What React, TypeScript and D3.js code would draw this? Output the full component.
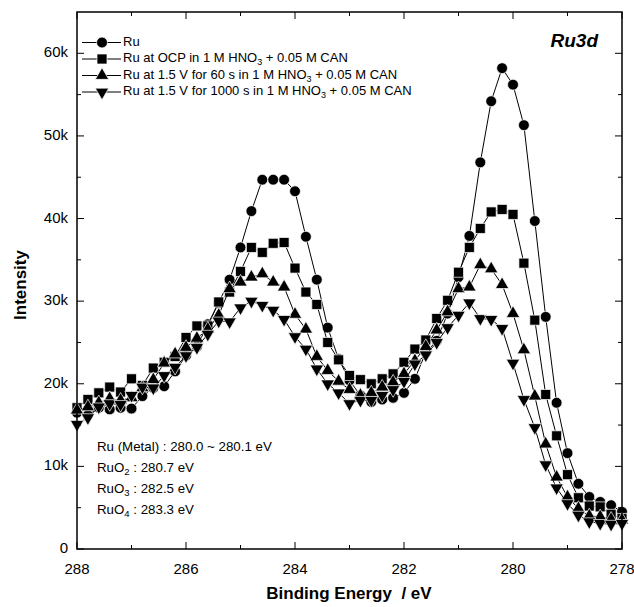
import React from "react";
import * as d3 from "d3";

// binding energy grid, 288 -> 278 eV in 0.2 eV steps
const energies = d3.range(0, 51).map((i) => +(288 - i * 0.2).toFixed(1));

// intensities in k counts
const ruMetal = [
  16.5, 16.2, 17.1, 16.9, 17.1, 17.0, 18.5, 19.5, 19.7, 21.5, 23.4, 24.5, 27.2, 29.8, 32.6, 36.5, 40.9,
  44.7, 44.7, 44.7, 43.3, 37.8, 32.6, 26.8, 23.0, 20.4, 18.6, 17.8, 18.1, 18.3, 18.9, 20.6, 23.8, 25.2,
  28.5, 32.9, 37.9, 46.8, 54.2, 58.2, 56.2, 51.3, 39.7, 28.1, 17.7, 11.6, 7.9, 6.3, 5.7, 5.3, 4.5,
];
const ruOcp = [
  17.1, 18.1, 18.9, 19.6, 19.0, 20.6, 19.8, 21.9, 22.6, 23.3, 25.6, 27.0, 27.0, 29.9, 31.1, 33.6, 36.5,
  35.9, 37.0, 37.1, 34.0, 31.1, 29.6, 25.0, 22.9, 21.0, 20.5, 20.0, 20.6, 21.2, 22.6, 24.2, 25.3, 27.9,
  30.1, 33.5, 36.5, 38.8, 40.8, 41.1, 40.5, 34.6, 27.7, 18.7, 13.7, 9.0, 6.2, 5.2, 5.1, 4.2, 3.7,
];
const ru60s = [
  16.8, 17.2, 17.7, 18.2, 18.0, 18.3, 19.5, 20.5, 22.5, 23.6, 24.4, 25.5, 26.6, 28.3, 31.5, 32.3, 32.9,
  33.3, 32.3, 31.7, 28.4, 26.6, 23.3, 21.6, 20.3, 19.3, 18.6, 18.9, 19.6, 20.2, 21.2, 22.8, 24.5, 26.5,
  28.7, 31.5, 31.7, 34.4, 33.9, 32.0, 28.5, 24.1, 18.5, 12.7, 8.7, 6.3, 4.9, 4.0, 3.9, 3.6, 3.5,
];
const ru1000s = [
  15.1, 15.9, 17.2, 17.6, 17.5, 18.6, 19.6, 19.5, 21.0, 22.0, 23.4, 24.4, 26.0, 27.6, 27.5, 29.2, 30.0,
  29.5, 28.9, 27.8, 25.7, 24.2, 21.8, 20.0, 18.9, 17.6, 18.0, 18.0, 18.6, 19.3, 20.3, 22.4, 23.5, 25.0,
  26.8, 28.3, 29.8, 27.9, 27.8, 26.7, 22.5, 18.1, 14.7, 10.2, 7.4, 5.5, 4.1, 3.3, 3.1, 3.0, 3.1,
];

const seriesNames = [
  "Ru",
  "Ru at OCP in 1 M HNO|3| + 0.05 M CAN",
  "Ru at 1.5 V for 60 s in 1 M HNO|3| + 0.05 M CAN",
  "Ru at 1.5 V for 1000 s in 1 M HNO|3| + 0.05 M CAN",
];
const seriesValues = [ruMetal, ruOcp, ru60s, ru1000s];
const seriesMarks = ["circle", "square", "up", "down"];

const notes = [
  ["Ru (Metal) : 280.0 ~ 280.1 eV", ""],
  ["RuO", "2", " : 280.7 eV"],
  ["RuO", "3", " : 282.5 eV"],
  ["RuO", "4", " : 283.3 eV"],
];

const xTicks = [288, 286, 284, 282, 280, 278];
const xMinor = [287, 285, 283, 281, 279];
const yTicks = [0, 10, 20, 30, 40, 50, 60];
const yMinor = [5, 15, 25, 35, 45, 55];

const W = 634;
const H = 607;
const left = 77;
const right = 622;
const top = 12;
const bottom = 549;
const font = "'Liberation Sans', Arial, sans-serif";

const x = d3.scaleLinear().domain([288, 278]).range([left, right]);
const y = d3.scaleLinear().domain([0, 65]).range([bottom, top]);

const symbolPath = (kind: string) => {
  if (kind === "circle") return d3.symbol(d3.symbolCircle, 92)()!;
  if (kind === "square") return d3.symbol(d3.symbolSquare, 100)()!;
  return d3.symbol(d3.symbolTriangle, 78)()!;
};

const Marker = ({ kind, cx, cy }: { kind: string; cx: number; cy: number }) => (
  <path
    d={symbolPath(kind)}
    transform={`translate(${cx},${cy})${kind === "down" ? " rotate(180)" : ""}`}
    fill="#000"
    stroke="#fff"
    strokeWidth={0.7}
  />
);

const LegendLabel = ({ text, tx, ty }: { text: string; tx: number; ty: number }) => {
  const parts = text.split("|");
  return (
    <text x={tx} y={ty} fontSize={13} fontFamily={font} dominantBaseline="middle" style={{ whiteSpace: "pre" }}>
      {parts[0]}
      {parts.length > 1 && (
        <>
          <tspan fontSize={9} dy={4}>
            {parts[1]}
          </tspan>
          <tspan dy={-4}>{parts[2]}</tspan>
        </>
      )}
    </text>
  );
};

export default function App() {
  const line = d3
    .line<number>()
    .x((_, i) => x(energies[i]))
    .y((d) => y(d));

  return (
    <svg width={W} height={H} style={{ position: "absolute", left: 0, top: 0 }}>
      <rect width={W} height={H} fill="#fff" />

      {/* data */}
      {seriesValues.map((vals, s) => (
        <g key={s}>
          <path d={line(vals)!} fill="none" stroke="#000" strokeWidth={1} />
          {vals.map((v, i) => (
            <Marker key={i} kind={seriesMarks[s]} cx={x(energies[i])} cy={y(v)} />
          ))}
        </g>
      ))}

      {/* frame */}
      <rect x={left} y={top} width={right - left} height={bottom - top} fill="none" stroke="#000" strokeWidth={1.5} />

      {/* x ticks */}
      {xTicks.map((t) => (
        <g key={t}>
          <line x1={x(t)} x2={x(t)} y1={bottom} y2={bottom - 7} stroke="#000" />
          <line x1={x(t)} x2={x(t)} y1={top} y2={top + 7} stroke="#000" />
          <text x={x(t)} y={574} textAnchor="middle" fontSize={15} fontFamily={font}>
            {t}
          </text>
        </g>
      ))}
      {xMinor.map((t) => (
        <g key={t}>
          <line x1={x(t)} x2={x(t)} y1={bottom} y2={bottom - 4} stroke="#000" />
          <line x1={x(t)} x2={x(t)} y1={top} y2={top + 4} stroke="#000" />
        </g>
      ))}

      {/* y ticks */}
      {yTicks.map((t) => (
        <g key={t}>
          <line x1={left} x2={left + 7} y1={y(t)} y2={y(t)} stroke="#000" />
          <line x1={right} x2={right - 7} y1={y(t)} y2={y(t)} stroke="#000" />
          <text x={68} y={y(t)} textAnchor="end" dominantBaseline="middle" fontSize={15} fontFamily={font}>
            {t === 0 ? "0" : `${t}k`}
          </text>
        </g>
      ))}
      {yMinor.map((t) => (
        <g key={t}>
          <line x1={left} x2={left + 4} y1={y(t)} y2={y(t)} stroke="#000" />
          <line x1={right} x2={right - 4} y1={y(t)} y2={y(t)} stroke="#000" />
        </g>
      ))}

      {/* axis titles */}
      <text
        x={349}
        y={599}
        textAnchor="middle"
        fontSize={17}
        fontWeight="bold"
        fontFamily={font}
        style={{ whiteSpace: "pre" }}
      >
        {"Binding Energy  / eV"}
      </text>
      <text
        transform="translate(26,285) rotate(-90)"
        textAnchor="middle"
        fontSize={17}
        fontWeight="bold"
        fontFamily={font}
      >
        Intensity
      </text>

      <text x={598} y={47} textAnchor="end" fontSize={19} fontWeight="bold" fontStyle="italic" fontFamily={font}>
        Ru3d
      </text>

      {/* legend */}
      {seriesNames.map((name, s) => {
        const ly = 42.5 + s * 16.5;
        return (
          <g key={name}>
            <line x1={82} x2={121} y1={ly} y2={ly} stroke="#000" />
            <Marker kind={seriesMarks[s]} cx={102} cy={ly} />
            <LegendLabel text={name} tx={123} ty={ly} />
          </g>
        );
      })}

      {/* assignments */}
      {notes.map((n, i) => (
        <text key={i} x={97} y={447 + i * 21} fontSize={13.3} fontFamily={font} dominantBaseline="middle">
          {n[0]}
          {n[1] && (
            <>
              <tspan fontSize={9.5} dy={4}>
                {n[1]}
              </tspan>
              <tspan dy={-4}>{n[2]}</tspan>
            </>
          )}
        </text>
      ))}
    </svg>
  );
}
